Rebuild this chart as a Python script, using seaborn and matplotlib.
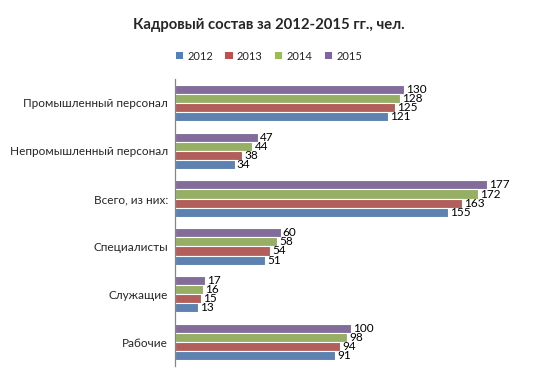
import matplotlib
matplotlib.use("Agg")
import matplotlib.pyplot as plt
import seaborn as sns
import pandas as pd
from matplotlib.patches import Patch

# Данные
categories = ["Промышленный персонал", "Непромышленный персонал", "Всего, из них:",
              "Специалисты", "Служащие", "Рабочие"]
years = ["2012", "2013", "2014", "2015"]
v2012 = [121, 34, 155, 51, 13, 91]
v2013 = [125, 38, 163, 54, 15, 94]
v2014 = [128, 44, 172, 58, 16, 98]
v2015 = [130, 47, 177, 60, 17, 100]
colors = {"2012": "#4F81BD", "2013": "#C0504D", "2014": "#9BBB59", "2015": "#8064A2"}

rows = []
for year, vals in zip(years, [v2012, v2013, v2014, v2015]):
    for cat, v in zip(categories, vals):
        rows.append({"cat": cat, "year": year, "value": v})
df = pd.DataFrame(rows)

sns.set_style("white")
plt.rcParams["font.family"] = ["Lato", "DejaVu Sans"]

fig = plt.figure(figsize=(5.38, 3.76), dpi=100)
ax = fig.add_axes([175 / 538, 10 / 376, 352 / 538, 287 / 376])

hue_order = years[::-1]  # 2015 сверху в каждой группе
sns.barplot(data=df, y="cat", x="value", hue="year", order=categories,
            hue_order=hue_order, palette=colors, orient="h", width=0.76,
            edgecolor="white", linewidth=0.8, legend=False, ax=ax)

for cont in ax.containers:
    ax.bar_label(cont, padding=1.5, fontsize=8.5, color="#000000")

ax.set_xlim(0, 200)
ax.set_xlabel("")
ax.set_ylabel("")
ax.set_xticks([])
ax.tick_params(axis="y", length=0, labelsize=8.5, pad=5)
for s in ["top", "right", "bottom"]:
    ax.spines[s].set_visible(False)
ax.spines["left"].set_color("#868686")
ax.spines["left"].set_linewidth(0.9)

fig.text(0.5, 1 - 25 / 376, "Кадровый состав за 2012-2015 гг., чел.",
         ha="center", va="center", fontsize=10.7, fontweight="bold")

handles = [Patch(facecolor=colors[y], edgecolor="none") for y in years]
fig.legend(handles, years, loc="center", bbox_to_anchor=(0.5, 1 - 56 / 376),
           ncol=4, frameon=False, fontsize=8, handlelength=0.65, handleheight=0.65,
           handletextpad=0.4, columnspacing=1.1)

fig.savefig("out.png", dpi=100)
